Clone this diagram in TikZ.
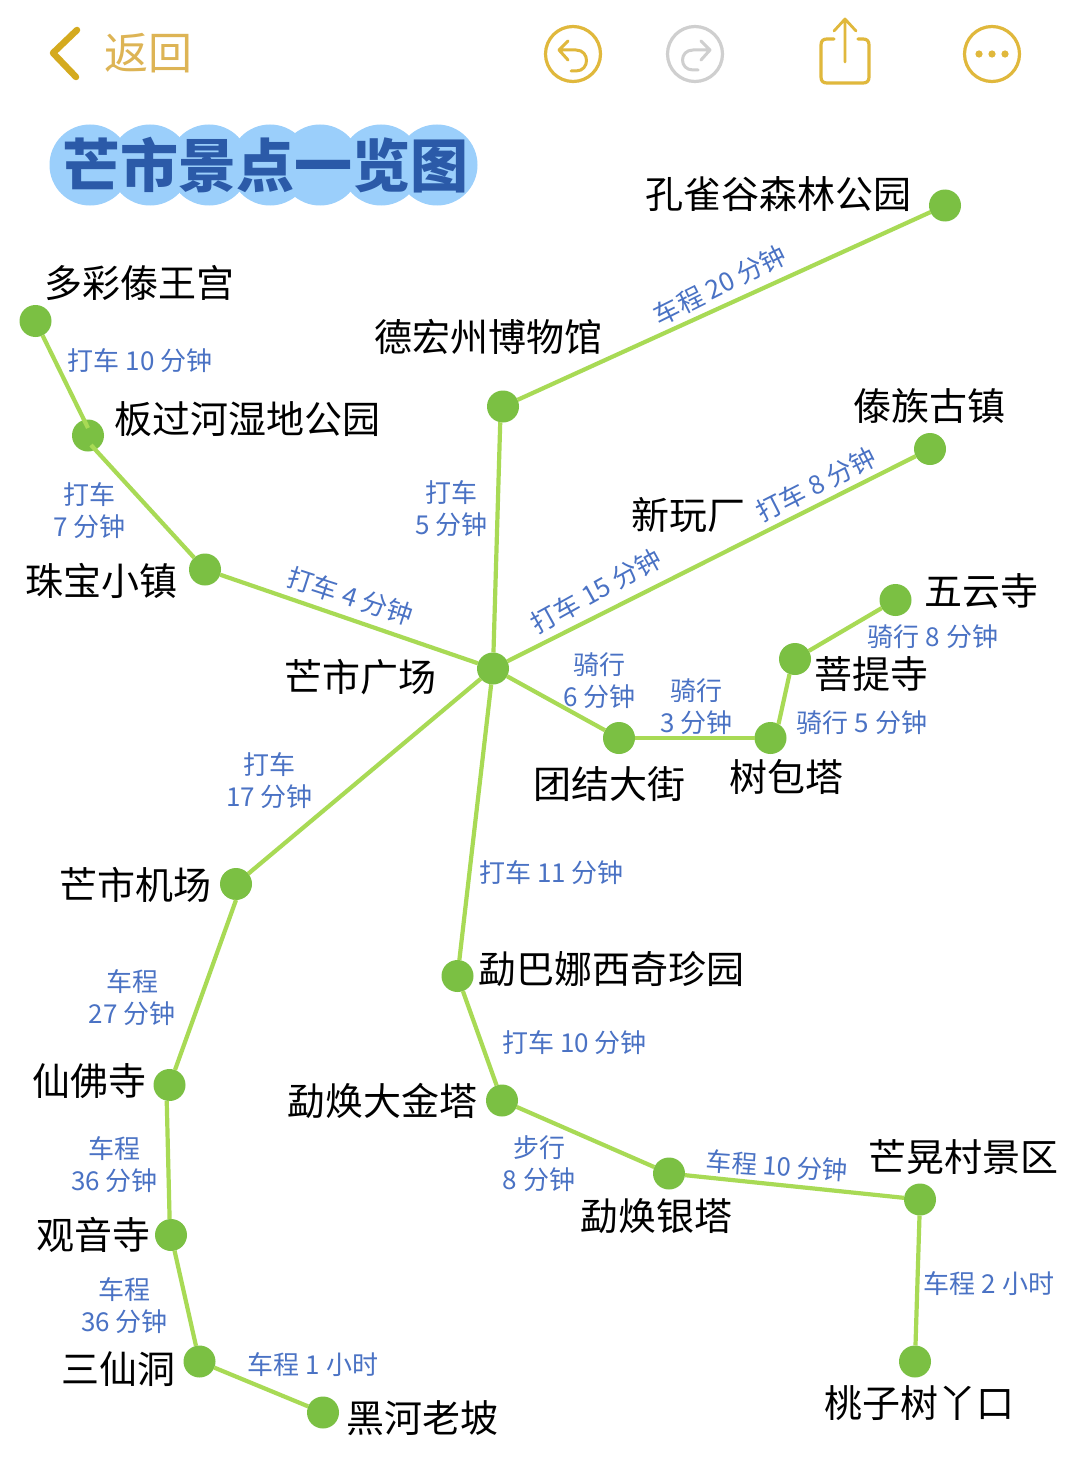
\documentclass[tikz,border=0pt]{standalone}
\usepackage{fontspec}
\setmainfont{Noto Sans CJK SC}
\begin{document}
\begin{tikzpicture}[x=1pt,y=-1pt,
  every node/.style={inner sep=0pt,outer sep=0pt},
  stop/.style={circle,fill=stopgreen,minimum size=32pt},
  link/.style={draw=linegreen,line width=4.2pt},
  place/.style={font=\fontsize{38}{38}\selectfont,text=black},
  time/.style={font=\fontsize{26}{32}\selectfont,text=timeblue,align=center},
  icon/.style={draw=icongold,line width=3.2pt,line cap=round,line join=round},
  iconoff/.style={draw=icongrey,line width=3.2pt,line cap=round,line join=round},
  bub/.style={circle,fill=bubble,minimum size=81pt}]
\definecolor{stopgreen}{HTML}{7BC043}
\definecolor{linegreen}{HTML}{A8DA55}
\definecolor{timeblue}{HTML}{4A72C4}
\definecolor{icongold}{HTML}{E0B83C}
\definecolor{chevgold}{HTML}{D4AA1E}
\definecolor{icongrey}{HTML}{CFCFCF}
\definecolor{bubble}{HTML}{9BCFFB}
\definecolor{titleblue}{HTML}{2B5AA8}
\definecolor{backgold}{HTML}{DDB455}
\useasboundingbox (0,0) rectangle (1080,1466);
\fill[white] (0,0) rectangle (1080,1466);
% header
\coordinate (c1) at (77,30);\coordinate (c2) at (53,53);\coordinate (c3) at (76,77);
\draw[draw=chevgold,line width=6.5pt,line cap=round,line join=round] (c1) -- (c2) -- (c3);
\node[font=\fontsize{44}{44}\selectfont,text=backgold] (back) at (148,53) {返回};
\node[circle,icon,minimum size=55pt] (undo) at (573,54) {};
\draw[icon,line width=3pt] (568,41) -- (559,50) -- (568,60) (559,50) -- (576,50) .. controls (590,50) and (590,71) .. (576,71) -- (571,71);
\node[circle,iconoff,minimum size=55pt] (redo) at (695,54) {};
\draw[iconoff,line width=3pt] (701,41) -- (710,50) -- (701,60) (710,50) -- (693,50) .. controls (679,50) and (679,70) .. (693,70) -- (698,70);
\coordinate (s1) at (834,39);\coordinate (s2) at (858,39);
\draw[icon] (s1) -- (827,39) .. controls (823,39) and (821,41) .. (821,45) -- (821,77) .. controls (821,81) and (823,83) .. (827,83) -- (863,83) .. controls (867,83) and (869,81) .. (869,77) -- (869,45) .. controls (869,41) and (867,39) .. (863,39) -- (s2);
\draw[icon,line width=2.8pt] (845,62) -- (845,19) (834,31) -- (845,19) -- (856,31);
\node[circle,icon,minimum size=55pt] (more) at (992,54) {};
\fill[icongold] (979,54) circle (3.6) (992,54) circle (3.6) (1005,54) circle (3.6);
% title
\node[bub] (b1) at (90,165) {};\node[bub] (b2) at (150,165) {};\node[bub] (b3) at (209,165) {};
\node[bub] (b4) at (270,165) {};\node[bub] (b5) at (320,165) {};\node[bub] (b6) at (381,165) {};\node[bub] (b7) at (437,165) {};
\node[font=\fontsize{58}{58}\bfseries\selectfont,text=titleblue] (title) at (265,165) {芒市景点一览图};
% stops
\node[stop] (kq) at (945,205.5) {};
\node[stop] (dc) at (35.5,321) {};
\node[stop] (dh) at (503,406.5) {};
\node[stop] (bg) at (88,435.5) {};
\node[stop] (dz) at (930,449) {};
\node[stop] (zb) at (205,569.5) {};
\node[stop] (wy) at (895.5,600) {};
\node[stop] (ms) at (493,668.5) {};
\node[stop] (pt) at (795,659) {};
\node[stop] (tj) at (619,738) {};
\node[stop] (sb) at (770.5,738) {};
\node[stop] (jc) at (236,884) {};
\node[stop] (mb) at (457.5,976) {};
\node[stop] (xf) at (169.5,1085) {};
\node[stop] (jt) at (502,1100.5) {};
\node[stop] (yt) at (669,1173.5) {};
\node[stop] (mh) at (920,1199.5) {};
\node[stop] (gy) at (171,1235) {};
\node[stop] (sx) at (199.5,1361.5) {};
\node[stop] (hh) at (323,1412.5) {};
\node[stop] (tz) at (915,1361.5) {};
% links
\coordinate (bga) at (88,428);\coordinate (bgb) at (91,445);
\draw[link] (kq) -- (dh); \draw[link] (dh.-100) -- (ms); \draw[link] (dc) -- (bga); \draw[link] (bgb) -- (zb);
\draw[link] (zb) -- (ms); \draw[link] (dz) -- (ms); \draw[link] (wy) -- (pt); \draw[link] (pt.-110) -- (sb.60);
\draw[link] (sb) -- (tj); \draw[link] (tj) -- (ms); \draw[link] (ms) -- (jc); \draw[link] (ms) -- (mb);
\draw[link] (jc.-90) -- (xf.70); \draw[link] (xf.-100) -- (gy.95); \draw[link] (gy) -- (sx); \draw[link] (sx) -- (hh);
\draw[link] (mb) -- (jt); \draw[link] (jt) -- (yt); \draw[link] (yt) -- (mh); \draw[link] (mh) -- (tz);
% places
\node[place] (tkq) at (778,194) {孔雀谷森林公园};
\node[place] (tdc) at (139,282.5) {多彩傣王宫};
\node[place] (tdh) at (488,336.5) {德宏州博物馆};
\node[place] (tbg) at (247,419) {板过河湿地公园};
\node[place] (tdz) at (929,406) {傣族古镇};
\node[place] (txw) at (688,515) {新玩厂};
\node[place] (tzb) at (101.5,581) {珠宝小镇};
\node[place] (twy) at (981.5,591) {五云寺};
\node[place] (tms) at (360,677) {芒市广场};
\node[place] (tpt) at (871.5,674) {菩提寺};
\node[place] (ttj) at (609,784) {团结大街};
\node[place] (tsb) at (786,777) {树包塔};
\node[place] (tjc) at (135,885) {芒市机场};
\node[place] (tmb) at (611,969.5) {勐巴娜西奇珍园};
\node[place] (txf) at (89,1081) {仙佛寺};
\node[place] (tjt) at (382,1101) {勐焕大金塔};
\node[place] (tmh) at (963,1157) {芒晃村景区};
\node[place] (tyt) at (656.5,1216) {勐焕银塔};
\node[place] (tgy) at (93,1235) {观音寺};
\node[place] (tsx) at (118,1369) {三仙洞};
\node[place] (thh) at (422,1418.5) {黑河老坡};
\node[place] (ttz) at (919,1403) {桃子树丫口};
% times
\node[time,rotate=26.5] (l1) at (720,285) {车程 20 分钟};
\node[time] (l2) at (140,360.5) {打车 10 分钟};
\node[time] (l3) at (89.5,511) {打车\\7 分钟};
\node[time] (l4) at (451.5,508.5) {打车\\5 分钟};
\node[time,rotate=27] (l5) at (816,484.5) {打车 8 分钟};
\node[time,rotate=29] (l6) at (596,591) {打车 15 分钟};
\node[time,rotate=-18] (l7) at (350,596.5) {打车 4 分钟};
\node[time] (l8) at (599.5,681) {骑行\\6 分钟};
\node[time] (l9) at (696.5,707) {骑行\\3 分钟};
\node[time] (l10) at (933,636.5) {骑行 8 分钟};
\node[time] (l11) at (862,722.5) {骑行 5 分钟};
\node[time] (l12) at (269.5,781) {打车\\17 分钟};
\node[time] (l13) at (551.5,872.5) {打车 11 分钟};
\node[time] (l14) at (132,998) {车程\\27 分钟};
\node[time] (l15) at (574.5,1042.5) {打车 10 分钟};
\node[time] (l16) at (539,1163.5) {步行\\8 分钟};
\node[time,rotate=-4,font=\fontsize{25.5}{32}\selectfont] (l17) at (777,1166) {车程 10 分钟};
\node[time] (l18) at (114.5,1165) {车程\\36 分钟};
\node[time] (l19) at (124.5,1306) {车程\\36 分钟};
\node[time] (l20) at (313,1365) {车程 1 小时};
\node[time] (l21) at (989,1284) {车程 2 小时};
\end{tikzpicture}
\end{document}
